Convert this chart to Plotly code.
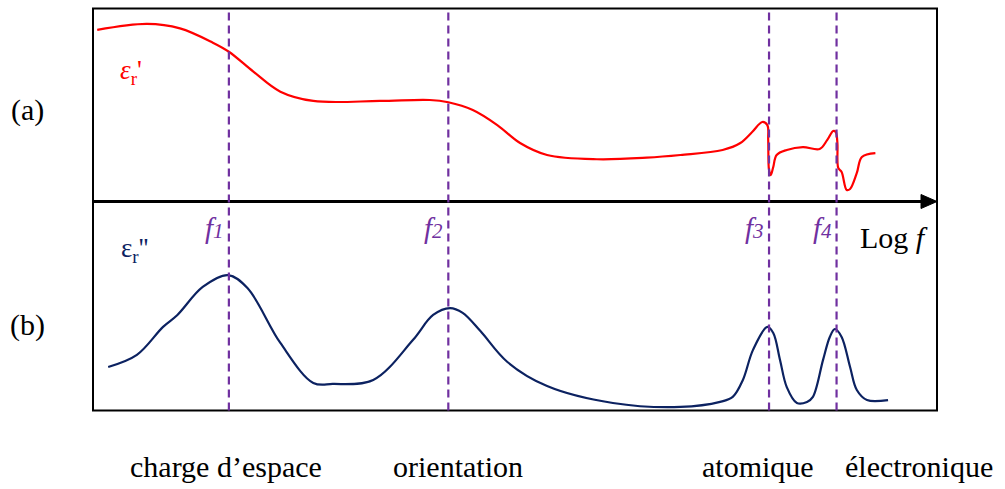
import plotly.graph_objects as go

# Log f axis in arbitrary units (0..10 across the frame)
log_f_real = [0.05, 0.64, 1.03, 1.42, 1.61, 1.90, 2.22, 2.61, 3.40, 3.99, 4.21, 4.50,
              4.79, 5.06, 5.38, 5.97, 6.56, 6.96, 7.46, 7.67, 7.81, 7.93, 7.99, 8.00,
              8.01, 8.03, 8.06, 8.10, 8.22, 8.41, 8.61, 8.70, 8.77, 8.80, 8.82, 8.83,
              8.87, 8.93, 8.97, 9.05, 9.11, 9.27]
eps_real = [8.89, 9.20, 8.97, 8.23, 7.76, 6.73, 5.69, 5.21, 5.21, 5.26, 5.14, 4.74,
            3.96, 3.03, 2.41, 2.19, 2.27, 2.41, 2.67, 3.03, 3.60, 4.12, 3.96, 3.19,
            1.63, 1.37, 1.79, 2.41, 2.67, 2.82, 2.72, 3.19, 3.65, 3.60, 3.03, 1.74,
            1.53, 0.60, 0.65, 1.48, 2.31, 2.51]

log_f_imag = [0.18, 0.52, 0.83, 1.00, 1.30, 1.60, 1.83, 2.22, 2.61, 2.84, 3.32, 3.79,
              4.03, 4.23, 4.38, 4.59, 4.91, 5.38, 6.16, 6.96, 7.43, 7.58, 7.70, 7.82,
              7.99, 8.06, 8.14, 8.22, 8.34, 8.46, 8.53, 8.65, 8.73, 8.79, 8.87, 8.97,
              9.05, 9.17, 9.42]
eps_imag = [2.08, 2.66, 4.00, 4.57, 5.91, 6.48, 5.86, 3.23, 1.32, 1.27, 1.46, 3.37,
            4.57, 4.90, 4.67, 3.80, 2.32, 1.17, 0.36, 0.17, 0.41, 0.65, 1.46, 2.90,
            4.00, 3.71, 2.42, 1.12, 0.36, 0.41, 0.65, 2.42, 3.52, 3.90, 3.52, 2.08,
            0.98, 0.50, 0.50]

relax_freqs = [1.61, 4.21, 8.01, 8.81]
relax_labels = ["1", "2", "3", "4"]
mechanisms = ["charge d\u2019espace", "orientation", "atomique", "\u00e9lectronique"]
mech_x = [226, 458, 758, 919]

W, H = 1005, 489
RED = "#ff0000"
NAVY = "#0c2261"
PURPLE = "#7030a0"
SERIF = "Liberation Serif, Times New Roman, serif"

box_l, box_r, box_t, box_b, mid = 93, 937, 8.5, 410.5, 201.5
px = lambda x: x / W
py = lambda y: 1 - y / H

fig = go.Figure()
fig.add_trace(go.Scatter(x=log_f_real, y=eps_real, mode="lines",
                         line=dict(color=RED, width=2.2, shape="spline", smoothing=1.0),
                         yaxis="y", hoverinfo="skip"))
fig.add_trace(go.Scatter(x=log_f_imag, y=eps_imag, mode="lines",
                         line=dict(color=NAVY, width=2.2, shape="spline", smoothing=1.0),
                         yaxis="y2", hoverinfo="skip"))

shapes = [
    dict(type="rect", xref="paper", yref="paper", x0=px(box_l), x1=px(box_r),
         y0=py(box_b), y1=py(box_t), line=dict(color="black", width=2), layer="below"),
    dict(type="line", xref="paper", yref="paper", x0=px(box_l), x1=px(925),
         y0=py(mid), y1=py(mid), line=dict(color="black", width=3)),
    dict(type="path", xref="paper", yref="paper",
         path=f"M {px(921)} {py(194.5)} L {px(937)} {py(mid)} L {px(921)} {py(208.5)} Z",
         fillcolor="black", line=dict(color="black", width=1)),
]
for f in relax_freqs:
    shapes.append(dict(type="line", xref="x", yref="paper", x0=f, x1=f,
                       y0=py(box_b), y1=py(box_t),
                       line=dict(color=PURPLE, width=2.2, dash="8px,5px")))

BLACK_FONT = dict(color="black", size=30, family=SERIF)
annotations = [
    dict(text="(a)", x=px(27), y=py(110), font=BLACK_FONT),
    dict(text="(b)", x=px(27), y=py(325), font=BLACK_FONT),
    dict(text="<i>\u03b5</i><sub>r</sub>'", x=px(131), y=py(72),
         font=dict(color=RED, size=27, family=SERIF)),
    dict(text="\u03b5<sub>r</sub>''", x=px(134), y=py(250),
         font=dict(color=NAVY, size=27, family=SERIF)),
    dict(text="Log <i>f</i>", x=px(894), y=py(237), font=BLACK_FONT),
]
for f, lab in zip(relax_freqs, relax_labels):
    annotations.append(dict(
        text=f"<i>f</i><span style='font-size:21px'><i>{lab}</i></span>",
        x=f, xref="x", xanchor="right", xshift=-3, y=py(228),
        font=dict(color=PURPLE, size=29, family=SERIF)))
for m, mx in zip(mechanisms, mech_x):
    annotations.append(dict(text=m, x=px(mx), y=py(466), font=BLACK_FONT))

for a in annotations:
    a.setdefault("xref", "paper")
    a.setdefault("yref", "paper")
    a.setdefault("xanchor", "center")
    a.setdefault("yanchor", "middle")
    a["showarrow"] = False

hidden = dict(visible=False, showgrid=False, zeroline=False, fixedrange=True)
fig.update_layout(
    width=W, height=H, margin=dict(l=0, r=0, t=0, b=0),
    paper_bgcolor="white", plot_bgcolor="white", showlegend=False,
    xaxis=dict(domain=[px(box_l), px(box_r)], range=[0, 10], **hidden),
    yaxis=dict(domain=[py(mid), py(box_t)], range=[0, 10], **hidden),
    yaxis2=dict(domain=[py(box_b), py(mid)], range=[0, 10], **hidden),
    shapes=shapes, annotations=annotations,
)
fig.write_html("out.html")
